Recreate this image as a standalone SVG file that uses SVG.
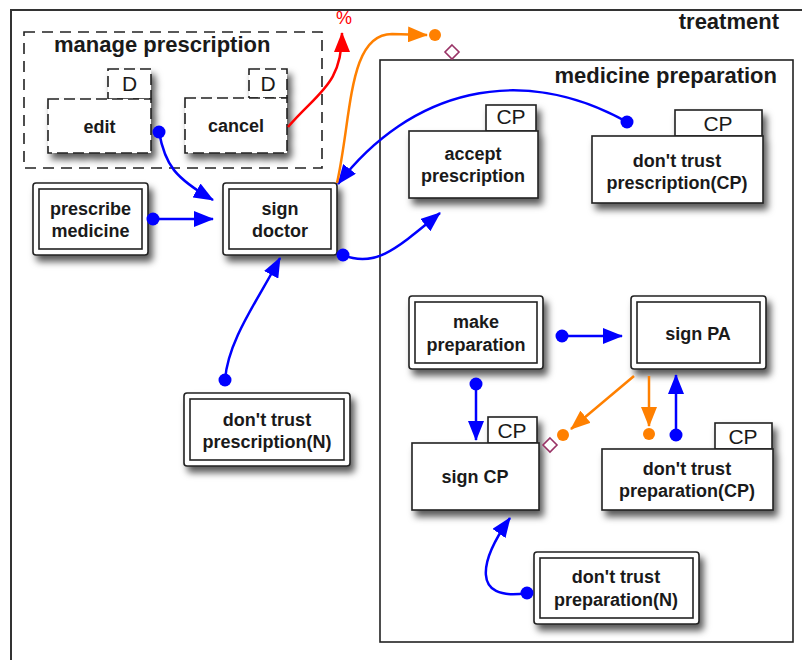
<svg xmlns="http://www.w3.org/2000/svg" width="802" height="660" viewBox="0 0 802 660">
<defs>
<style>
.title{font-family:"Liberation Sans",Arial,sans-serif;font-weight:bold;font-size:22px;fill:#1a1a1a}
.lbl{font-family:"Liberation Sans",Arial,sans-serif;font-weight:bold;font-size:18px;fill:#1a1a1a;text-anchor:middle}
.tabt{font-family:"Liberation Sans",Arial,sans-serif;font-size:21px;fill:#1a1a1a;text-anchor:middle}
.box{fill:#fff;stroke:#222;stroke-width:1.6}
.inner{fill:none;stroke:#222;stroke-width:1.6}
.dash{fill:#fff;stroke:#222;stroke-width:1.6;stroke-dasharray:11 5}
.blue{fill:none;stroke:#0000ff;stroke-width:2.5}
.orange{fill:none;stroke:#ff8000;stroke-width:2.5}
.red{fill:none;stroke:#ff0000;stroke-width:2.5}
.bdot{fill:#0000ff}
.odot{fill:#ff8000}
.dia{fill:#fff;stroke:#993366;stroke-width:1.6}
</style>
<filter id="sh" x="-20%" y="-20%" width="150%" height="170%">
<feDropShadow dx="4" dy="6" stdDeviation="3.5" flood-color="#000" flood-opacity="0.65"/>
</filter>
<marker id="ab" viewBox="0 0 20 16" refX="19" refY="8" markerWidth="20" markerHeight="16" markerUnits="userSpaceOnUse" orient="auto"><path d="M0,0 L20,8 L0,16 z" fill="#0000ff"/></marker>
<marker id="ao" viewBox="0 0 20 16" refX="19" refY="8" markerWidth="20" markerHeight="16" markerUnits="userSpaceOnUse" orient="auto"><path d="M0,0 L20,8 L0,16 z" fill="#ff8000"/></marker>
<marker id="ar" viewBox="0 0 20 16" refX="19" refY="8" markerWidth="20" markerHeight="16" markerUnits="userSpaceOnUse" orient="auto"><path d="M0,0 L20,8 L0,16 z" fill="#ff0000"/></marker>
</defs>
<rect width="802" height="660" fill="#fff"/>

<g id="treatment">
<rect x="11" y="10" width="800" height="670" fill="none" stroke="#333" stroke-width="2"/>
<text class="title" x="779" y="29" text-anchor="end">treatment</text>
</g>

<g id="medicine-preparation">
<rect x="380" y="60" width="413" height="582" fill="none" stroke="#222" stroke-width="1.6"/>
<text class="title" x="777" y="83" text-anchor="end">medicine preparation</text>
</g>

<g id="manage-prescription">
<rect x="24" y="32" width="298" height="136" fill="none" stroke="#222" stroke-width="1.6" stroke-dasharray="11 7"/>
<text class="title" x="54" y="52">manage prescription</text>
</g>

<g id="edit">
<g filter="url(#sh)"><rect class="dash" x="108" y="69" width="43" height="30"/><rect class="dash" x="48" y="99" width="103" height="54"/></g>
<text class="tabt" x="129.5" y="91">D</text>
<text class="lbl" x="99.5" y="133">edit</text>
</g>

<g id="cancel">
<g filter="url(#sh)"><rect class="dash" x="249" y="69" width="38" height="29"/><rect class="dash" x="185" y="98" width="102" height="55"/></g>
<text class="tabt" x="268" y="91">D</text>
<text class="lbl" x="236" y="132">cancel</text>
</g>

<g id="prescribe-medicine">
<rect class="box" x="33" y="183" width="115" height="72" rx="3" filter="url(#sh)"/>
<rect class="inner" x="39" y="189" width="103" height="60"/>
<text class="lbl" x="90.5" y="215">prescribe</text>
<text class="lbl" x="90.5" y="237">medicine</text>
</g>

<g id="sign-doctor">
<rect class="box" x="223" y="183" width="114" height="72" rx="3" filter="url(#sh)"/>
<rect class="inner" x="229" y="189" width="102" height="60"/>
<text class="lbl" x="280" y="215">sign</text>
<text class="lbl" x="280" y="237">doctor</text>
</g>

<g id="dont-trust-prescription-n">
<rect class="box" x="184" y="393" width="166" height="73" rx="3" filter="url(#sh)"/>
<rect class="inner" x="190" y="399" width="154" height="61"/>
<text class="lbl" x="267" y="426">don't trust</text>
<text class="lbl" x="267" y="448">prescription(N)</text>
</g>

<g id="accept-prescription">
<g filter="url(#sh)"><rect class="box" x="486" y="105" width="50" height="26"/><rect class="box" x="409" y="131" width="129" height="67"/></g>
<text class="tabt" x="511" y="124">CP</text>
<text class="lbl" x="473" y="160">accept</text>
<text class="lbl" x="473" y="182">prescription</text>
</g>

<g id="dont-trust-prescription-cp">
<g filter="url(#sh)"><rect class="box" x="675" y="110" width="87" height="26"/><rect class="box" x="592" y="136" width="171" height="67"/></g>
<text class="tabt" x="718" y="131">CP</text>
<text class="lbl" x="677" y="167">don't trust</text>
<text class="lbl" x="677" y="189">prescription(CP)</text>
</g>

<g id="make-preparation">
<rect class="box" x="409" y="296" width="134" height="73" rx="3" filter="url(#sh)"/>
<rect class="inner" x="415" y="302" width="122" height="61"/>
<text class="lbl" x="476" y="328">make</text>
<text class="lbl" x="476" y="351">preparation</text>
</g>

<g id="sign-pa">
<rect class="box" x="631" y="296" width="135" height="73" rx="3" filter="url(#sh)"/>
<rect class="inner" x="637" y="302" width="123" height="61"/>
<text class="lbl" x="698" y="340">sign PA</text>
</g>

<g id="sign-cp">
<g filter="url(#sh)"><rect class="box" x="488" y="417" width="49" height="26"/><rect class="box" x="412" y="443" width="127" height="67"/></g>
<text class="tabt" x="512" y="438">CP</text>
<text class="lbl" x="475" y="483">sign CP</text>
</g>

<g id="dont-trust-preparation-cp">
<g filter="url(#sh)"><rect class="box" x="715" y="423" width="57" height="26"/><rect class="box" x="602" y="449" width="171" height="61"/></g>
<text class="tabt" x="743" y="444">CP</text>
<text class="lbl" x="687" y="475">don't trust</text>
<text class="lbl" x="687" y="497">preparation(CP)</text>
</g>

<g id="dont-trust-preparation-n">
<rect class="box" x="534" y="552" width="165" height="72" rx="3" filter="url(#sh)"/>
<rect class="inner" x="540" y="558" width="153" height="60"/>
<text class="lbl" x="616" y="583">don't trust</text>
<text class="lbl" x="616" y="606">preparation(N)</text>
</g>

<g id="connectors">
<path class="blue" d="M159,132 C165,165 175,178 213,200" marker-end="url(#ab)"/>
<circle class="bdot" cx="159" cy="132" r="6.5"/>
<path class="blue" d="M153,219 L213,219" marker-end="url(#ab)"/>
<circle class="bdot" cx="153" cy="219" r="6.5"/>
<path class="blue" d="M225,380 C228,340 258,300 280,258" marker-end="url(#ab)"/>
<circle class="bdot" cx="225" cy="380" r="6.5"/>
<path class="blue" d="M343,255 C375,268 395,250 440,213" marker-end="url(#ab)"/>
<circle class="bdot" cx="343" cy="255" r="6.5"/>
<path class="blue" d="M627,122 C520,62 410,90 338,184" marker-end="url(#ab)"/>
<circle class="bdot" cx="627" cy="122" r="6.5"/>
<path class="orange" d="M337,183 C352,115 348,34 392,34 L427,35" marker-end="url(#ao)"/>
<circle class="odot" cx="435" cy="35" r="6"/>
<path class="dia" d="M452,45 L459,52 L452,59 L445,52 z"/>
<path class="red" d="M288,127 C318,92 342,85 342,33" marker-end="url(#ar)"/>
<text x="344" y="24" font-family="'Liberation Sans',Arial,sans-serif" font-size="18" fill="#ff0000" text-anchor="middle">%</text>
<path class="blue" d="M562,336 L622,336" marker-end="url(#ab)"/>
<circle class="bdot" cx="562" cy="336" r="6.5"/>
<path class="blue" d="M476,384 L476,440" marker-end="url(#ab)"/>
<circle class="bdot" cx="476" cy="384" r="6.5"/>
<path class="orange" d="M634,376 L571,429" marker-end="url(#ao)"/>
<circle class="odot" cx="563" cy="435" r="6"/>
<path class="dia" d="M550,438 L557,445 L550,452 L543,445 z"/>
<path class="orange" d="M649,376 L649,426" marker-end="url(#ao)"/>
<circle class="odot" cx="649" cy="434" r="6"/>
<path class="blue" d="M676,435 L676,375" marker-end="url(#ab)"/>
<circle class="bdot" cx="676" cy="435" r="6.5"/>
<path class="blue" d="M527,593 C470,602 480,560 510,518" marker-end="url(#ab)"/>
<circle class="bdot" cx="527" cy="593" r="6.5"/>
</g>
</svg>
